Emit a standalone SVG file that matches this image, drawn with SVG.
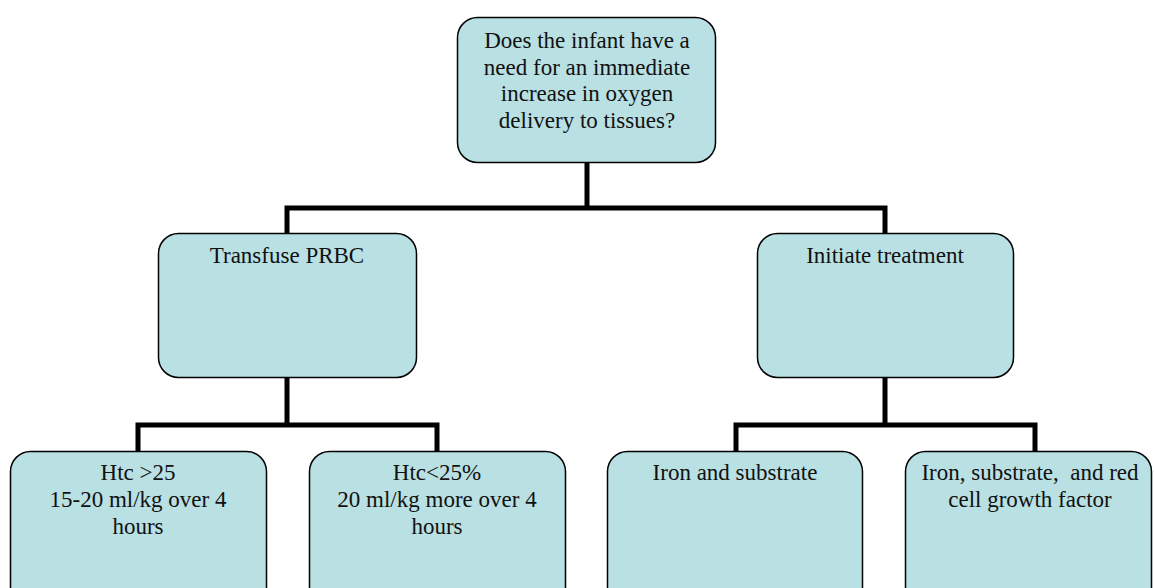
<svg xmlns="http://www.w3.org/2000/svg" width="1154" height="588" viewBox="0 0 1154 588">
<style>
.box{fill:#B9E0E3;stroke:#000;stroke-width:1.5}
.t{font-family:"Liberation Serif","Times New Roman",serif;font-size:23px;fill:#111;text-anchor:middle}
.c{fill:none;stroke:#000;stroke-width:5;stroke-linecap:square}
</style>
<rect width="1154" height="588" fill="#fff"/>
<g id="connectors">
<path class="c" d="M587 162V208M287 208H885M287 208V233M885 208V233"/>
<path class="c" d="M287 377V425M138 425H437M138 425V451M437 425V451"/>
<path class="c" d="M885 377V425M736 425H1035M736 425V451M1035 425V451"/>
</g>
<g id="n0">
<rect class="box" x="457.5" y="17.5" width="258" height="145" rx="20"/>
<text class="t" x="587"><tspan x="587" y="48">Does the infant have a</tspan><tspan x="587" y="74.5">need for an immediate</tspan><tspan x="587" y="101">increase in oxygen</tspan><tspan x="587" y="127.5">delivery to tissues?</tspan></text>
</g>
<g id="n1">
<rect class="box" x="158.5" y="233.5" width="258" height="144" rx="20"/>
<text class="t" x="287" y="263">Transfuse PRBC</text>
</g>
<g id="n2">
<rect class="box" x="757.5" y="233.5" width="256" height="144" rx="20"/>
<text class="t" x="885" y="263">Initiate treatment</text>
</g>
<g id="n3">
<rect class="box" x="10.5" y="451.5" width="256" height="160" rx="20"/>
<text class="t"><tspan x="138" y="480">Htc &gt;25</tspan><tspan x="138" y="507">15-20 ml/kg over 4</tspan><tspan x="138" y="534">hours</tspan></text>
</g>
<g id="n4">
<rect class="box" x="309.5" y="451.5" width="256" height="160" rx="20"/>
<text class="t"><tspan x="437" y="480">Htc&lt;25%</tspan><tspan x="437" y="507">20 ml/kg more over 4</tspan><tspan x="437" y="534">hours</tspan></text>
</g>
<g id="n5">
<rect class="box" x="607.5" y="451.5" width="255" height="160" rx="20"/>
<text class="t" x="735" y="480">Iron and substrate</text>
</g>
<g id="n6">
<rect class="box" x="905.5" y="451.5" width="246" height="160" rx="20"/>
<text class="t" xml:space="preserve"><tspan x="1030" y="480">Iron, substrate,  and red</tspan><tspan x="1030" y="507">cell growth factor</tspan></text>
</g>
</svg>
